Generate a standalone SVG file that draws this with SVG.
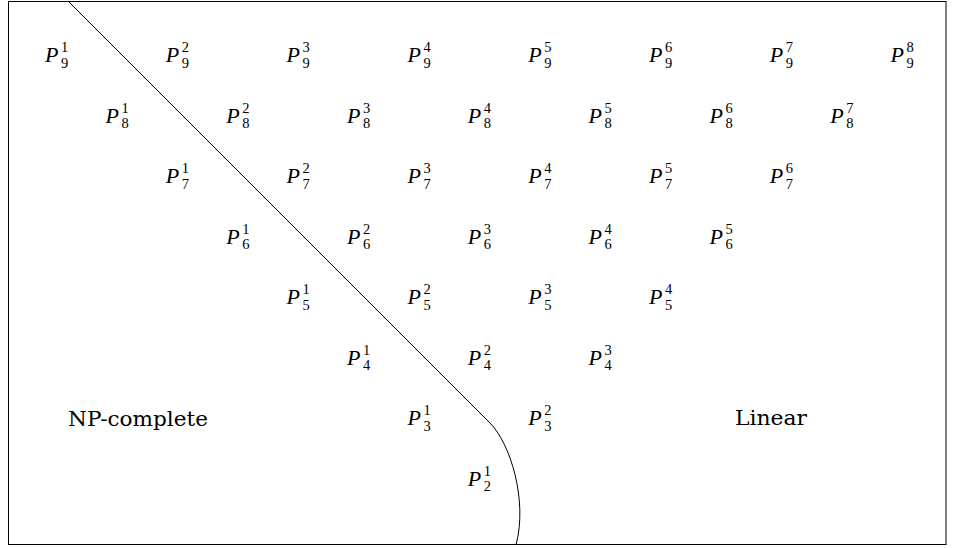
<svg xmlns="http://www.w3.org/2000/svg" width="953" height="548" viewBox="0 0 953 548">
<style>
.P{font-family:"Liberation Serif",serif;font-style:italic;font-size:22px;fill:#000}
.s{font-family:"Liberation Serif",serif;font-size:14.5px;fill:#000}
.t{font-family:"DejaVu Serif",serif;font-size:21px;fill:#000}
.ln{fill:none;stroke:#000;stroke-width:1}
</style>
<rect x="8.5" y="1.5" width="937.5" height="543" fill="#fff" stroke="#000" stroke-width="1"/>
<g id="connectors">
<path class="ln" d="M68,1 L490,423 C510,443 528,500 516,545"/>
</g>
<g id="row9">
<g id="P9_1" transform="translate(45,62)"><text class="P">P</text><text class="s" x="16" y="-10">1</text><text class="s" x="16" y="5.5">9</text></g>
<g id="P9_2" transform="translate(165.8,62)"><text class="P">P</text><text class="s" x="16" y="-10">2</text><text class="s" x="16" y="5.5">9</text></g>
<g id="P9_3" transform="translate(286.6,62)"><text class="P">P</text><text class="s" x="16" y="-10">3</text><text class="s" x="16" y="5.5">9</text></g>
<g id="P9_4" transform="translate(407.4,62)"><text class="P">P</text><text class="s" x="16" y="-10">4</text><text class="s" x="16" y="5.5">9</text></g>
<g id="P9_5" transform="translate(528.2,62)"><text class="P">P</text><text class="s" x="16" y="-10">5</text><text class="s" x="16" y="5.5">9</text></g>
<g id="P9_6" transform="translate(649,62)"><text class="P">P</text><text class="s" x="16" y="-10">6</text><text class="s" x="16" y="5.5">9</text></g>
<g id="P9_7" transform="translate(769.8,62)"><text class="P">P</text><text class="s" x="16" y="-10">7</text><text class="s" x="16" y="5.5">9</text></g>
<g id="P9_8" transform="translate(890.6,62)"><text class="P">P</text><text class="s" x="16" y="-10">8</text><text class="s" x="16" y="5.5">9</text></g>
</g>
<g id="row8">
<g id="P8_1" transform="translate(105.4,122.5)"><text class="P">P</text><text class="s" x="16" y="-10">1</text><text class="s" x="16" y="5.5">8</text></g>
<g id="P8_2" transform="translate(226.2,122.5)"><text class="P">P</text><text class="s" x="16" y="-10">2</text><text class="s" x="16" y="5.5">8</text></g>
<g id="P8_3" transform="translate(347,122.5)"><text class="P">P</text><text class="s" x="16" y="-10">3</text><text class="s" x="16" y="5.5">8</text></g>
<g id="P8_4" transform="translate(467.8,122.5)"><text class="P">P</text><text class="s" x="16" y="-10">4</text><text class="s" x="16" y="5.5">8</text></g>
<g id="P8_5" transform="translate(588.6,122.5)"><text class="P">P</text><text class="s" x="16" y="-10">5</text><text class="s" x="16" y="5.5">8</text></g>
<g id="P8_6" transform="translate(709.4,122.5)"><text class="P">P</text><text class="s" x="16" y="-10">6</text><text class="s" x="16" y="5.5">8</text></g>
<g id="P8_7" transform="translate(830.2,122.5)"><text class="P">P</text><text class="s" x="16" y="-10">7</text><text class="s" x="16" y="5.5">8</text></g>
</g>
<g id="row7">
<g id="P7_1" transform="translate(165.8,183)"><text class="P">P</text><text class="s" x="16" y="-10">1</text><text class="s" x="16" y="5.5">7</text></g>
<g id="P7_2" transform="translate(286.6,183)"><text class="P">P</text><text class="s" x="16" y="-10">2</text><text class="s" x="16" y="5.5">7</text></g>
<g id="P7_3" transform="translate(407.4,183)"><text class="P">P</text><text class="s" x="16" y="-10">3</text><text class="s" x="16" y="5.5">7</text></g>
<g id="P7_4" transform="translate(528.2,183)"><text class="P">P</text><text class="s" x="16" y="-10">4</text><text class="s" x="16" y="5.5">7</text></g>
<g id="P7_5" transform="translate(649,183)"><text class="P">P</text><text class="s" x="16" y="-10">5</text><text class="s" x="16" y="5.5">7</text></g>
<g id="P7_6" transform="translate(769.8,183)"><text class="P">P</text><text class="s" x="16" y="-10">6</text><text class="s" x="16" y="5.5">7</text></g>
</g>
<g id="row6">
<g id="P6_1" transform="translate(226.2,243.5)"><text class="P">P</text><text class="s" x="16" y="-10">1</text><text class="s" x="16" y="5.5">6</text></g>
<g id="P6_2" transform="translate(347,243.5)"><text class="P">P</text><text class="s" x="16" y="-10">2</text><text class="s" x="16" y="5.5">6</text></g>
<g id="P6_3" transform="translate(467.8,243.5)"><text class="P">P</text><text class="s" x="16" y="-10">3</text><text class="s" x="16" y="5.5">6</text></g>
<g id="P6_4" transform="translate(588.6,243.5)"><text class="P">P</text><text class="s" x="16" y="-10">4</text><text class="s" x="16" y="5.5">6</text></g>
<g id="P6_5" transform="translate(709.4,243.5)"><text class="P">P</text><text class="s" x="16" y="-10">5</text><text class="s" x="16" y="5.5">6</text></g>
</g>
<g id="row5">
<g id="P5_1" transform="translate(286.6,304)"><text class="P">P</text><text class="s" x="16" y="-10">1</text><text class="s" x="16" y="5.5">5</text></g>
<g id="P5_2" transform="translate(407.4,304)"><text class="P">P</text><text class="s" x="16" y="-10">2</text><text class="s" x="16" y="5.5">5</text></g>
<g id="P5_3" transform="translate(528.2,304)"><text class="P">P</text><text class="s" x="16" y="-10">3</text><text class="s" x="16" y="5.5">5</text></g>
<g id="P5_4" transform="translate(649,304)"><text class="P">P</text><text class="s" x="16" y="-10">4</text><text class="s" x="16" y="5.5">5</text></g>
</g>
<g id="row4">
<g id="P4_1" transform="translate(347,364.5)"><text class="P">P</text><text class="s" x="16" y="-10">1</text><text class="s" x="16" y="5.5">4</text></g>
<g id="P4_2" transform="translate(467.8,364.5)"><text class="P">P</text><text class="s" x="16" y="-10">2</text><text class="s" x="16" y="5.5">4</text></g>
<g id="P4_3" transform="translate(588.6,364.5)"><text class="P">P</text><text class="s" x="16" y="-10">3</text><text class="s" x="16" y="5.5">4</text></g>
</g>
<g id="row3">
<g id="P3_1" transform="translate(407.4,425)"><text class="P">P</text><text class="s" x="16" y="-10">1</text><text class="s" x="16" y="5.5">3</text></g>
<g id="P3_2" transform="translate(528.2,425)"><text class="P">P</text><text class="s" x="16" y="-10">2</text><text class="s" x="16" y="5.5">3</text></g>
</g>
<g id="row2">
<g id="P2_1" transform="translate(467.8,485.5)"><text class="P">P</text><text class="s" x="16" y="-10">1</text><text class="s" x="16" y="5.5">2</text></g>
</g>
<g id="np-complete"><text class="t" x="68" y="426" textLength="140" lengthAdjust="spacingAndGlyphs">NP-complete</text></g>
<g id="linear"><text class="t" x="735" y="425" textLength="72" lengthAdjust="spacingAndGlyphs">Linear</text></g>
</svg>
